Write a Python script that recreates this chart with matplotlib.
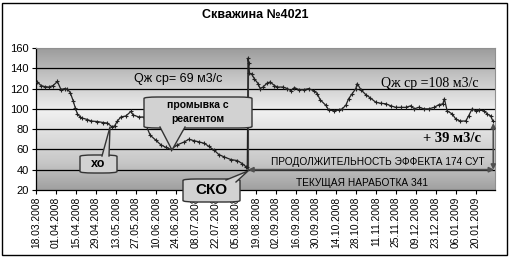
import numpy as np
import pandas as pd
import matplotlib
matplotlib.use("Agg")
import matplotlib.pyplot as plt
import matplotlib.dates as mdates
from matplotlib.patches import FancyBboxPatch, Polygon, Rectangle
from matplotlib.colors import LinearSegmentedColormap

# ---------------- data ----------------
start_date = "2008-03-18"
day_offsets = [1, 3.5, 6, 9, 12, 15, 17.5, 20, 22, 24, 26, 27.5, 29, 31, 32, 36, 38.5, 43, 47, 50,
               53, 55, 57, 59.5, 63, 66.5, 68, 72, 75.5, 77, 80, 84, 87.5, 91, 94.5, 99, 104, 107,
               111, 114, 118, 121, 125, 128, 132, 136.5, 141, 144.5, 147, 148, 148.5, 149, 149.5,
               151, 153, 155.5, 157, 159, 162, 164, 167, 169, 173, 176, 178.5, 181, 184, 188, 191,
               195, 197, 199, 203, 205, 209, 212, 214.5, 217, 219, 221.5, 224, 225, 227.5, 231,
               234, 238, 241.5, 245, 248.5, 252, 255.5, 259, 262.5, 265, 268, 272, 275, 279, 282,
               285, 286, 288, 291.5, 294, 297, 301, 303, 305.5, 308, 310, 314, 316, 318.5, 320]
debit = [126.5, 123, 122, 121.5, 123, 127, 119, 120, 119.5, 116, 108, 101, 95, 92, 91, 89.5, 88,
         87.5, 86.5, 86, 82.5, 83, 88, 92, 93, 97.5, 94, 92, 92, 84, 74, 69, 64.5, 62, 60, 64.5,
         67.5, 70, 68.5, 67.5, 66, 63, 59, 55, 52.5, 50, 49, 46, 43, 43, 150, 145, 135,
         134.5, 129.5, 125, 120, 121.5, 125.5, 126.5, 123, 121.5, 121.5, 120, 118, 121, 119, 119,
         120, 117.5, 115, 109, 103.5, 99, 98, 99, 100, 103.5, 110, 115, 120, 125, 119, 114,
         111, 106.5, 105.5, 105, 103, 101.5, 101.5, 101.5, 103, 100, 101.5, 100, 100, 101.5, 104,
         105, 110, 98, 95, 90, 88, 88, 93, 100, 98, 99, 98, 95, 93, 88]
tick_labels = ["18.03.2008", "01.04.2008", "15.04.2008", "29.04.2008", "13.05.2008", "27.05.2008",
               "10.06.2008", "24.06.2008", "08.07.2008", "22.07.2008", "05.08.2008", "19.08.2008",
               "02.09.2008", "16.09.2008", "30.09.2008", "14.10.2008", "28.10.2008", "11.11.2008",
               "25.11.2008", "09.12.2008", "23.12.2008", "06.01.2009", "20.01.2009"]
y_ticks = [20, 40, 60, 80, 100, 120, 140, 160]
sko_day = 148.5          # СКО treatment
gap_low, gap_high = 40, 86   # "+39" arrow span
effect_line = 40

plt.rcParams['font.family'] = ['Liberation Sans', 'DejaVu Sans']

t0 = pd.Timestamp(start_date)
dates = [t0 + pd.Timedelta(days=d) for d in day_offsets]
tick_dates = [pd.Timestamp(pd.to_datetime(s, format="%d.%m.%Y")) for s in tick_labels]

W, H = 510, 257
fig = plt.figure(figsize=(W / 100, H / 100), dpi=100)
fig.patch.set_facecolor("white")

AX_L, AX_R, AX_T, AX_B = 36, 495, 48, 190
ax = fig.add_axes([AX_L / W, 1 - AX_B / H, (AX_R - AX_L) / W, (AX_B - AX_T) / H])

x0 = mdates.date2num(t0)
x1 = x0 + 321.5
ax.set_xlim(x0, x1)
ax.set_ylim(20, 160)

# background gradient
grad_cmap = LinearSegmentedColormap.from_list(
    "g", [(0.0, "#a0a0a0"), (0.2, "#c8c8c8"), (0.55, "#f0f0f0"), (0.8, "#c4c4c4"), (1.0, "#9c9c9c")])
g = np.linspace(1, 0, 256).reshape(-1, 1)
ax.imshow(g, cmap=grad_cmap, aspect="auto", extent=[0, 1, 0, 1], transform=ax.transAxes,
          zorder=0, vmin=0, vmax=1)

for yv in y_ticks[1:-1]:
    ax.axhline(yv, color="black", lw=0.9, zorder=1)
ax.axhline(160, color="#888888", lw=0.8, zorder=1)

ax.plot(dates, debit, color="#222222", lw=0.9, marker="+", ms=3, mew=0.8, zorder=3)

ax.set_yticks(y_ticks)
ax.set_xticks(tick_dates)
ax.set_xticklabels(tick_labels, rotation=90, fontsize=7.4)
ax.tick_params(axis="y", labelsize=8, length=3, width=0.8, pad=2)
ax.tick_params(axis="x", length=3, width=0.8, pad=2)
for s in ["top", "right"]:
    ax.spines[s].set_color("#909090")
for s in ["left", "bottom"]:
    ax.spines[s].set_color("black")
    ax.spines[s].set_linewidth(0.9)


def P(x, y):
    """pixel position -> axes fraction"""
    return ((x - AX_L) / (AX_R - AX_L), (AX_B - y) / (AX_B - AX_T))


# arrows
sko_x = mdates.date2num(t0 + pd.Timedelta(days=sko_day))
ax.annotate("", xy=(sko_x, effect_line), xytext=(x1 - 0.5, effect_line),
            arrowprops=dict(arrowstyle="<|-|>", color="#505050", lw=1.3, mutation_scale=7,
                            shrinkA=0, shrinkB=0), zorder=4)
ax.annotate("", xy=(x1 - 1.2, gap_low), xytext=(x1 - 1.2, gap_high),
            arrowprops=dict(arrowstyle="<|-|>", color="#505050", lw=1.2, mutation_scale=7,
                            shrinkA=0, shrinkB=0), zorder=4, annotation_clip=False)
ax.plot([sko_x, sko_x], [effect_line, 150], color="#404040", lw=0.8, zorder=2)


def callout(box, base, tip, text, fs):
    (bx0, by0, bx1, by1) = box
    a = P(bx0, by1)
    b = P(bx1, by0)
    patch = FancyBboxPatch(a, b[0] - a[0], b[1] - a[1],
                           boxstyle="round,pad=0,rounding_size=0.03",
                           transform=ax.transAxes, facecolor="#d2d2d2", edgecolor="#333333",
                           lw=1.0, zorder=5, clip_on=False, mutation_aspect=0.35)
    ax.add_patch(patch)
    p1, p2 = P(*base[0]), P(*base[1])
    pt = P(*tip)
    poly = Polygon([p1, pt, p2], closed=True, transform=ax.transAxes, facecolor="#d2d2d2",
                   edgecolor="none", zorder=6, clip_on=False)
    ax.add_patch(poly)
    ax.plot([p1[0], pt[0], p2[0]], [p1[1], pt[1], p2[1]], transform=ax.transAxes,
            color="#333333", lw=1.0, zorder=7, clip_on=False)
    c = P((bx0 + bx1) / 2, (by0 + by1) / 2)
    ax.text(c[0], c[1], text, transform=ax.transAxes, ha="center", va="center",
            fontsize=fs, fontweight="bold", zorder=8, linespacing=1.5)


callout((80, 155, 117, 173), [(102, 156), (109, 156)], (110, 127), "хо", 9)
callout((144, 97, 252, 128), [(160, 127), (185, 127)], (172, 150), "промывка с\nреагентом", 7.5)
callout((183, 179, 240, 202), [(226, 180), (236, 182)], (248, 171), "СКО", 11)

tx = lambda x, y, s, **kw: ax.text(*P(x, y), s, transform=ax.transAxes, ha="center",
                                     va="center", zorder=4, **kw)
tx(178, 79, "Qж ср= 69 м3/с", fontsize=9)
tx(430, 83, "Qж ср =108 м3/с", fontsize=10, family="Liberation Serif")
tx(452, 139, "+ 39 м3/с", fontsize=10.5, family="Liberation Serif", fontweight="bold")
tx(378, 162, "ПРОДОЛЖИТЕЛЬНОСТЬ ЭФФЕКТА 174 СУТ", fontsize=7.3)
tx(362, 183, "ТЕКУЩАЯ НАРАБОТКА 341", fontsize=7.3)

fig.text(0.5, 1 - 15 / H, "Скважина №4021", ha="center", va="center", fontsize=9,
         fontweight="bold")
fig.patches.append(Rectangle((2 / W, 2 / H), 1 - 5 / W, 1 - 5 / H, transform=fig.transFigure,
                             fill=False, edgecolor="black", lw=1.0))

fig.savefig("out.png", dpi=100)
